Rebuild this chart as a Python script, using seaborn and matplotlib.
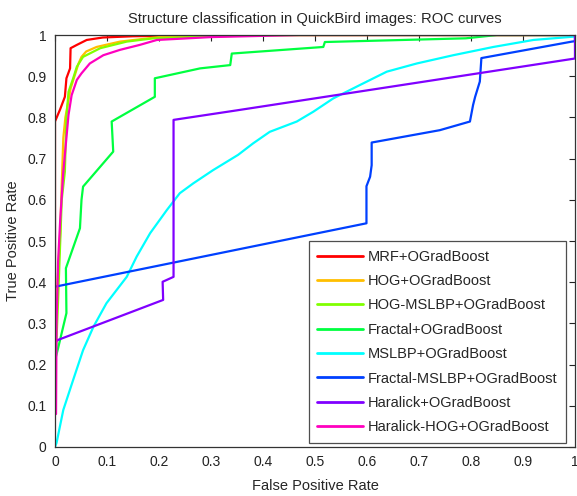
import numpy as np
import pandas as pd
import matplotlib
matplotlib.use("Agg")
import matplotlib.pyplot as plt
import seaborn as sns
from matplotlib.lines import Line2D

methods = ["MRF+OGradBoost", "HOG+OGradBoost", "HOG-MSLBP+OGradBoost",
           "Fractal+OGradBoost", "MSLBP+OGradBoost", "Fractal-MSLBP+OGradBoost",
           "Haralick+OGradBoost", "Haralick-HOG+OGradBoost"]
colors = ["#ff0000", "#ffbf00", "#80ff00", "#00ff40",
          "#00ffff", "#0040ff", "#8000ff", "#ff00bf"]

mrf_x = [0, 0, 0.01, 0.019, 0.022, 0.029, 0.03, 0.042, 0.061, 0.092, 0.15, 0.3, 1]
mrf_y = [0.1, 0.79, 0.82, 0.85, 0.895, 0.919, 0.968, 0.976, 0.988, 0.994, 0.997, 1, 1]

hog_x = [0.003, 0.005, 0.01, 0.012, 0.016, 0.02, 0.03, 0.045, 0.051, 0.06, 0.08, 0.125, 0.2, 0.3, 1]
hog_y = [0.3, 0.4, 0.52, 0.6, 0.75, 0.8, 0.87, 0.93, 0.947, 0.96, 0.971, 0.984, 0.995, 1, 1]

hogms_x = [0.002, 0.006, 0.013, 0.019, 0.022, 0.026, 0.035, 0.042, 0.054, 0.087, 0.138, 0.189, 0.27, 0.4, 1]
hogms_y = [0.23, 0.357, 0.6, 0.668, 0.8, 0.862, 0.895, 0.923, 0.947, 0.968, 0.984, 0.992, 0.995, 1, 1]

frac_x = [0.002, 0.006, 0.022, 0.021, 0.048, 0.051, 0.054, 0.112, 0.109, 0.192, 0.192,
          0.279, 0.337, 0.34, 0.516, 0.519, 0.79, 0.85, 1]
frac_y = [0.22, 0.24, 0.325, 0.434, 0.531, 0.6, 0.632, 0.717, 0.79, 0.85, 0.895,
          0.919, 0.927, 0.955, 0.971, 0.983, 0.992, 1, 1]

mslbp_x = [0, 0.003, 0.016, 0.035, 0.054, 0.074, 0.099, 0.138, 0.157, 0.183, 0.215, 0.24,
           0.266, 0.304, 0.352, 0.381, 0.413, 0.465, 0.497, 0.535, 0.587, 0.638, 0.696,
           0.766, 0.843, 0.92, 0.997, 1]
mslbp_y = [0, 0.01, 0.09, 0.163, 0.235, 0.292, 0.349, 0.413, 0.462, 0.519, 0.575, 0.616,
           0.64, 0.672, 0.709, 0.737, 0.765, 0.79, 0.814, 0.846, 0.879, 0.911, 0.931,
           0.951, 0.971, 0.988, 0.996, 1]

fms_x = [0, 0.599, 0.599, 0.606, 0.609, 0.609, 0.74, 0.798, 0.801, 0.804, 0.808, 0.817,
         0.82, 0.994, 1, 1]
fms_y = [0.389, 0.543, 0.633, 0.656, 0.684, 0.739, 0.769, 0.79, 0.81, 0.83, 0.85, 0.887,
         0.944, 0.984, 0.985, 1]

har_x = [0, 0.006, 0.208, 0.207, 0.228, 0.228, 0.349, 1, 1]
har_y = [0.255, 0.26, 0.357, 0.401, 0.413, 0.794, 0.817, 0.943, 1]

harhog_x = [0.002, 0.003, 0.006, 0.01, 0.016, 0.026, 0.032, 0.042, 0.051, 0.067, 0.093,
            0.125, 0.163, 0.196, 0.3, 0.47, 1]
harhog_y = [0.08, 0.3, 0.45, 0.55, 0.668, 0.806, 0.854, 0.891, 0.907, 0.931, 0.951,
            0.964, 0.976, 0.988, 0.995, 1, 1]

xs = [mrf_x, hog_x, hogms_x, frac_x, mslbp_x, fms_x, har_x, harhog_x]
ys = [mrf_y, hog_y, hogms_y, frac_y, mslbp_y, fms_y, har_y, harhog_y]

frames = []
for m, x, y in zip(methods, xs, ys):
    frames.append(pd.DataFrame({"fpr": x, "tpr": y, "method": m}))
df = pd.concat(frames, ignore_index=True)

sns.set_style("white")
plt.rcParams["font.family"] = ["Liberation Sans", "DejaVu Sans"]

fig = plt.figure(figsize=(5.77, 4.96), dpi=100)
ax = fig.add_axes([0.0953, 0.0988, 0.9012, 0.8306])

sns.lineplot(data=df, x="fpr", y="tpr", hue="method", hue_order=methods,
             palette=colors, sort=False, estimator=None, units="method",
             linewidth=1.6, ax=ax, legend=False)

ax.set_xlim(0, 1)
ax.set_ylim(0, 1)
ticks = np.round(np.arange(0, 1.01, 0.1), 1)
ticklabels = ["0", "0.1", "0.2", "0.3", "0.4", "0.5", "0.6", "0.7", "0.8", "0.9", "1"]
ax.set_xticks(ticks)
ax.set_xticklabels(ticklabels)
ax.set_yticks(ticks)
ax.set_yticklabels(ticklabels)
ax.tick_params(direction="in", length=4, width=0.8, top=True, right=True,
               labelsize=10, colors="#222222", pad=6)
for s in ax.spines.values():
    s.set_color("#333333")
    s.set_linewidth(0.9)

ax.set_xlabel("False Positive Rate", fontsize=10.5, labelpad=7)
ax.set_ylabel("True Positive Rate", fontsize=10.5, labelpad=5)
ax.set_title("Structure classification in QuickBird images: ROC curves", fontsize=10.6, pad=9)

handles = [Line2D([0], [0], color=c, lw=2.0) for c in colors]
leg = ax.legend(handles, methods, loc="lower right", bbox_to_anchor=(0.983, 0.0097),
                borderaxespad=0, fontsize=10.5, frameon=True, fancybox=False,
                handlelength=3.1, handletextpad=0.35, labelspacing=0.71,
                borderpad=0.6)
leg.get_frame().set_edgecolor("#222222")
leg.get_frame().set_linewidth(0.9)

fig.savefig("out.png", dpi=100, facecolor="white")
